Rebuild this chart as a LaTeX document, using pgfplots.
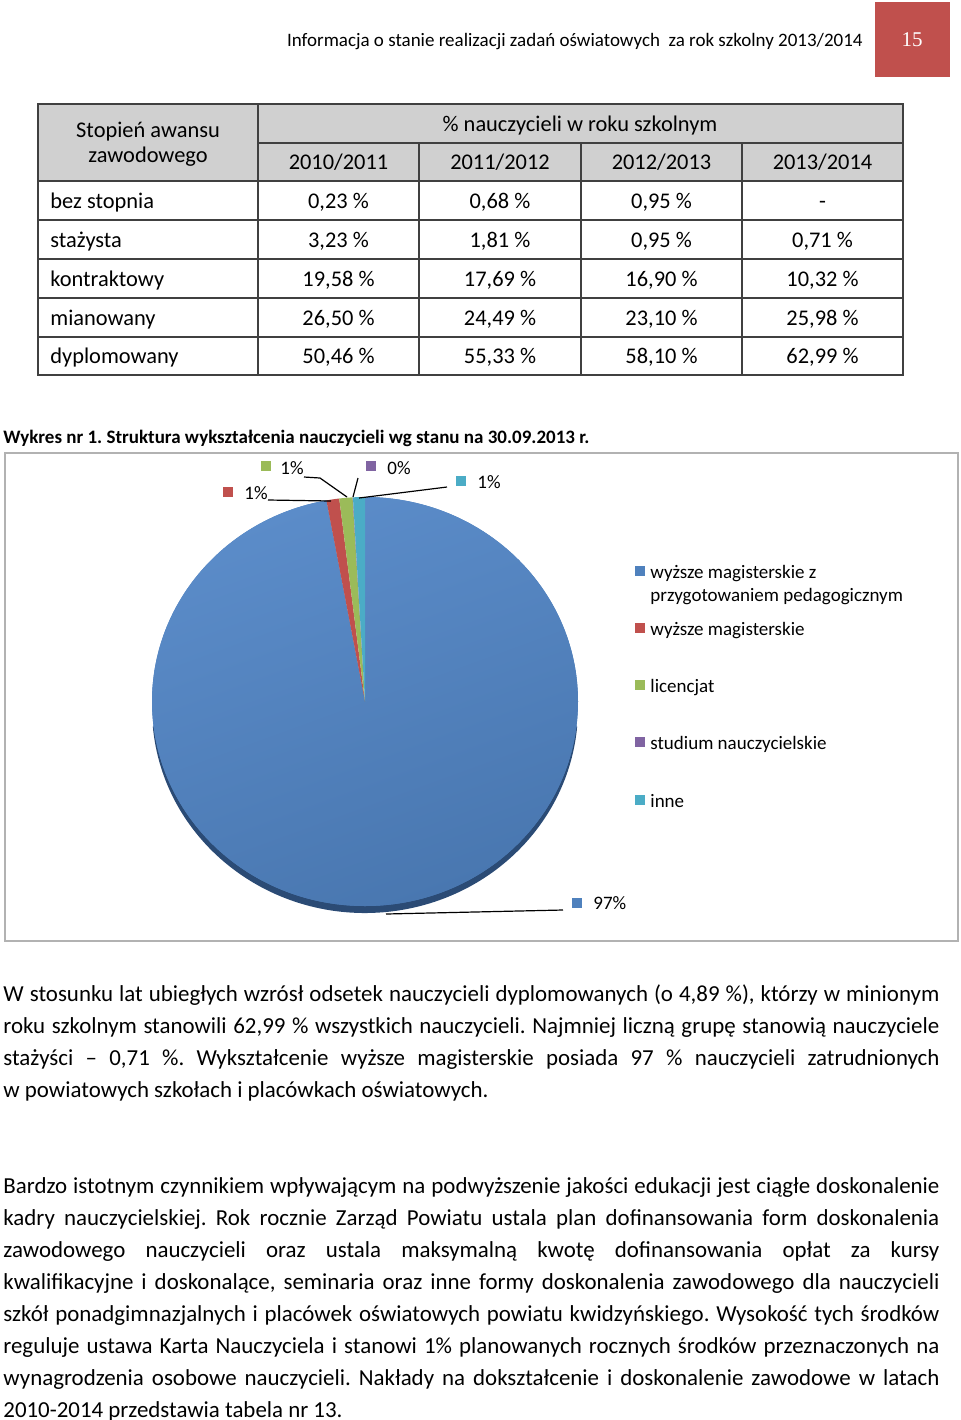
\documentclass[border=0pt]{standalone}
\usepackage{pgfplots}
\pgfplotsset{compat=1.18}
\usepackage{pgfplotstable}
\usepackage{fontspec}
\setmainfont{Carlito}
\newfontfamily\serifpn{Liberation Serif}
\frenchspacing
\definecolor{piebluel}{HTML}{5B8CC9}
\definecolor{piebluedk}{HTML}{4977B0}
\definecolor{pieblue}{HTML}{4F81BD}
\definecolor{piedark}{HTML}{2B4B75}
\definecolor{piered}{HTML}{C0504D}
\definecolor{piegreen}{HTML}{9BBB59}
\definecolor{piepurple}{HTML}{8064A2}
\definecolor{piecyan}{HTML}{4BACC6}
\definecolor{hdrgray}{HTML}{D0D0D0}
\definecolor{tblline}{HTML}{404040}
\definecolor{pagered}{HTML}{C0504D}
\pgfdeclareplotmark{emptymark}{}
\pgfplotstableread{
x y val start
0 0 97.10 0.00
0 0 0.97 97.10
0 0 1.00 98.07
0 0 0.03 99.07
0 0 0.90 99.10
}\piedata
\newcommand\slicepath{(0pt,0pt) -- (\angB:106.5pt and 102.25pt) arc[start angle=\angB, end angle=\angA, x radius=106.5pt, y radius=102.25pt] -- cycle}
\newcommand\trow[6]{%
  \node[anchor=base west] at (50,#1) {#2};
  \node[anchor=base] at (338.5,#1) {#3};
  \node[anchor=base] at (500,#1) {#4};
  \node[anchor=base] at (661.5,#1) {#5};
  \node[anchor=base] at (822.5,#1) {#6};}
\begin{document}
\begin{tikzpicture}
\path[use as bounding box] (0,0) rectangle (480pt,-710pt);
\begin{axis}[
  at={(182.5pt,-350.75pt)}, anchor=center,
  width=213pt, height=204.5pt, scale only axis,
  xmin=-1, xmax=1, ymin=-1, ymax=1,
  hide axis, clip=false]
\addplot[only marks, scatter, mark=emptymark, point meta=explicit,
  visualization depends on={value \coordindex \as \pidx},
  scatter/@pre marker code/.code={%
    \pgfplotstablegetelem{\pidx}{val}\of\piedata \let\pval\pgfplotsretval
    \pgfplotstablegetelem{\pidx}{start}\of\piedata \let\pstart\pgfplotsretval
    \pgfmathsetmacro\angA{90-3.6*(\pstart+\pval)}%
    \pgfmathsetmacro\angB{90-3.6*\pstart}%
    \ifcase\pidx\relax
      \path[fill=piedark, draw=none] (185:106.5pt and 102.25pt) ++(0pt,-3.5pt) arc[start angle=185, end angle=355, x radius=106.5pt, y radius=102.25pt] -- cycle;%
      \path[fill=pieblue, draw=none] \slicepath;%
      \path[draw=none, top color=piebluel, bottom color=piebluedk, shading angle=20] \slicepath;%
    \or \path[fill=piered, draw=none] \slicepath;%
    \or \path[fill=piegreen, draw=none] \slicepath;%
    \or \path[fill=piepurple, draw=none] \slicepath;%
    \or \path[fill=piecyan, draw=none] \slicepath;%
    \fi
  },
  scatter/@post marker code/.code={}]
  table[x=x, y=y, meta=val] {\piedata};
\end{axis}
\begin{scope}[x=0.5pt, y=-0.5pt]
% header
\node[anchor=base east, font=\fontsize{9.5}{11}\selectfont, inner sep=0pt] at (863,46) {Informacja o stanie realizacji zadań oświatowych \ za rok szkolny 2013/2014};
\fill[pagered] (875,2) rectangle (950,77);
\node[text=white, font=\serifpn\fontsize{10.5}{12}\selectfont] at (912,40) {15};
% table
\fill[hdrgray] (38,104) rectangle (903,181);
\begin{scope}[draw=tblline, line width=0.6pt]
\draw (38,104) rectangle (903,375);
\draw (258,104) -- (258,375);
\foreach \xx in {419,581,742} \draw (\xx,143) -- (\xx,375);
\draw (258,143) -- (903,143);
\foreach \yy in {181,220,259,298,337} \draw (38,\yy) -- (903,\yy);
\end{scope}
\begin{scope}[every node/.style={inner sep=0pt, font=\fontsize{11.2}{13}\selectfont}]
\node[anchor=base] at (148,137) {Stopień awansu};
\node[anchor=base] at (148,162) {zawodowego};
\node[anchor=base] at (580,131) {\% nauczycieli w roku szkolnym};
\node[anchor=base] at (338.5,169) {2010/2011};
\node[anchor=base] at (500,169) {2011/2012};
\node[anchor=base] at (661.5,169) {2012/2013};
\node[anchor=base] at (822.5,169) {2013/2014};
\trow{208}{bez stopnia}{0,23 \%}{0,68 \%}{0,95 \%}{-}
\trow{247}{stażysta}{3,23 \%}{1,81 \%}{0,95 \%}{0,71 \%}
\trow{286}{kontraktowy}{19,58 \%}{17,69 \%}{16,90 \%}{10,32 \%}
\trow{325}{mianowany}{26,50 \%}{24,49 \%}{23,10 \%}{25,98 \%}
\trow{363}{dyplomowany}{50,46 \%}{55,33 \%}{58,10 \%}{62,99 \%}
\end{scope}
% caption
\node[anchor=base west, inner sep=0pt, font=\bfseries\fontsize{9.5}{11}\selectfont] at (3,443) {Wykres nr 1. Struktura wykształcenia nauczycieli wg stanu na 30.09.2013 r.};
% chart frame
\draw[gray!60, line width=0.8pt] (5,453) rectangle (958,941);
% data labels
\begin{scope}[every node/.style={inner sep=0pt, font=\fontsize{9.5}{11}\selectfont}]
\fill[piered] (223,487) rectangle (233,497);
\node[anchor=base west] at (244,499) {1\%};
\fill[piegreen] (261,461) rectangle (271,471);
\node[anchor=base west] at (280,474) {1\%};
\fill[piepurple] (366,461) rectangle (376,471);
\node[anchor=base west] at (387,474) {0\%};
\fill[piecyan] (456,476) rectangle (466,486);
\node[anchor=base west] at (477,488) {1\%};
\fill[pieblue] (572,898) rectangle (582,908);
\node[anchor=base west] at (593,909) {97\%};
% leader lines
\draw[black, line width=0.6pt] (268,500) -- (331,501);
\draw[black, line width=0.6pt] (304,477) -- (320,478) -- (347,497);
\draw[black, line width=0.6pt] (358,478) -- (353,497);
\draw[black, line width=0.6pt] (447,487) -- (359,498);
\draw[black, line width=0.6pt] (563,910) -- (386,914);
% legend
\fill[pieblue] (635,566) rectangle (645,576);
\node[anchor=base west] at (650,578) {wyższe magisterskie z};
\node[anchor=base west] at (650,601) {przygotowaniem pedagogicznym};
\fill[piered] (635,623) rectangle (645,633);
\node[anchor=base west] at (650,635) {wyższe magisterskie};
\fill[piegreen] (635,680) rectangle (645,690);
\node[anchor=base west] at (650,692) {licencjat};
\fill[piepurple] (635,737) rectangle (645,747);
\node[anchor=base west] at (650,749) {studium nauczycielskie};
\fill[piecyan] (635,795) rectangle (645,805);
\node[anchor=base west] at (650,807) {inne};
\end{scope}
% body text
\begin{scope}[every node/.style={anchor=base west, inner sep=0pt, font=\fontsize{11.45}{16}\selectfont}]
\node at (3,1001) {\makebox[468pt][s]{W stosunku lat ubiegłych wzrósł odsetek nauczycieli dyplomowanych (o 4,89 \%), którzy w minionym}};
\node at (3,1033) {\makebox[468pt][s]{roku szkolnym stanowili 62,99 \% wszystkich nauczycieli. Najmniej liczną grupę stanowią nauczyciele}};
\node at (3,1065) {\makebox[468pt][s]{stażyści – 0,71 \%. Wykształcenie wyższe magisterskie posiada 97 \% nauczycieli zatrudnionych}};
\node at (3,1097) {w powiatowych szkołach i placówkach oświatowych.};
\node at (3,1193) {\makebox[468pt][s]{Bardzo istotnym czynnikiem wpływającym na podwyższenie jakości edukacji jest ciągłe doskonalenie}};
\node at (3,1225) {\makebox[468pt][s]{kadry nauczycielskiej. Rok rocznie Zarząd Powiatu ustala plan dofinansowania form doskonalenia}};
\node at (3,1257) {\makebox[468pt][s]{zawodowego nauczycieli oraz ustala maksymalną kwotę dofinansowania opłat za kursy}};
\node at (3,1289) {\makebox[468pt][s]{kwalifikacyjne i doskonalące, seminaria oraz inne formy doskonalenia zawodowego dla nauczycieli}};
\node at (3,1321) {\makebox[468pt][s]{szkół ponadgimnazjalnych i placówek oświatowych powiatu kwidzyńskiego. Wysokość tych środków}};
\node at (3,1353) {\makebox[468pt][s]{reguluje ustawa Karta Nauczyciela i stanowi 1\% planowanych rocznych środków przeznaczonych na}};
\node at (3,1385) {\makebox[468pt][s]{wynagrodzenia osobowe nauczycieli. Nakłady na dokształcenie i doskonalenie zawodowe w latach}};
\node at (3,1417) {2010-2014 przedstawia tabela nr 13.};
\end{scope}
\end{scope}
\end{tikzpicture}
\end{document}
